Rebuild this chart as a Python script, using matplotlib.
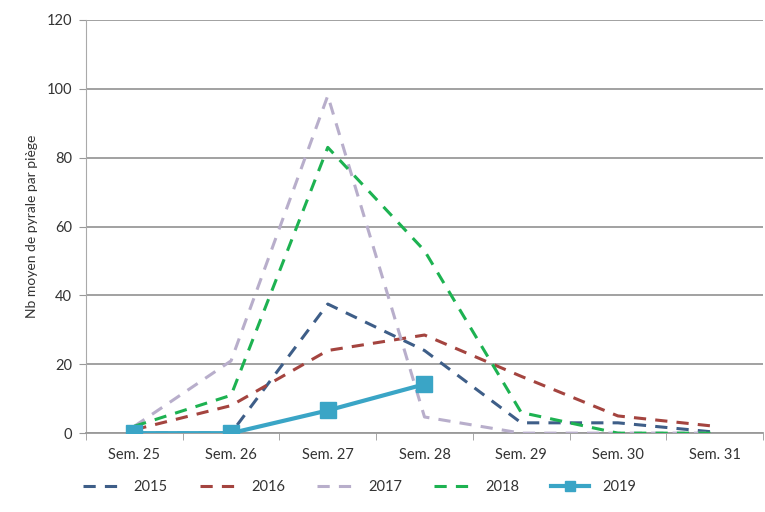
import matplotlib
matplotlib.use("Agg")
import matplotlib.pyplot as plt
import numpy as np

plt.rcParams['font.family'] = ['Lato', 'DejaVu Sans']

weeks = ["Sem. 25", "Sem. 26", "Sem. 27", "Sem. 28", "Sem. 29", "Sem. 30", "Sem. 31"]
y2015 = [0, 0, 37.5, 24, 3, 3, 0.3]
y2016 = [1, 8, 24, 28.5, 16.5, 5, 2]
y2017 = [2, 21, 98, 4.7, 0, 0, 0]
y2018 = [2, 11, 83, 53, 6, 0, 0]
y2019 = [0, 0, 6.6, 14.2]
years = ["2015", "2016", "2017", "2018", "2019"]
yticks = [0, 20, 40, 60, 80, 100, 120]

fig = plt.figure(figsize=(7.65, 5.12), dpi=100)
ax = fig.add_axes([0.1124, 0.154, 0.885, 0.807])

x = np.arange(len(weeks))
dash = (0, (4, 3))
ax.plot(x, y2015, color="#3E5E88", lw=2.2, linestyle=dash, label=years[0], zorder=3)
ax.plot(x, y2016, color="#A4443F", lw=2.2, linestyle=dash, label=years[1], zorder=3)
ax.plot(x, y2017, color="#B8AECB", lw=2.2, linestyle=dash, label=years[2], zorder=3)
ax.plot(x, y2018, color="#1DB251", lw=2.2, linestyle=dash, label=years[3], zorder=3)
ax.plot(x[:len(y2019)], y2019, color="#3AA5C6", lw=3, marker="s", markersize=11,
        label=years[4], zorder=4)

ax.set_xlim(-0.5, len(weeks) - 0.5)
ax.set_ylim(0, 120)
ax.set_yticks(yticks)
ax.set_xticks(x)
ax.set_xticklabels(weeks)
ax.set_xticks(np.arange(-0.5, len(weeks) + 0.5, 1), minor=True)
ax.tick_params(axis="x", which="major", length=0, pad=11, labelsize=10.5, colors="#333333")
ax.tick_params(axis="x", which="minor", length=5, color="#999999", direction="out")
ax.tick_params(axis="y", length=5, color="#999999", labelsize=10.5, colors="#333333", pad=5)
ax.grid(axis="y", color="#9a9a9a", lw=1.3, zorder=0)
for s in ["top", "right"]:
    ax.spines[s].set_visible(False)
ax.spines["left"].set_color("#aaaaaa")
ax.spines["bottom"].set_color("#9a9a9a")
ax.spines["bottom"].set_linewidth(1.3)
ax.set_ylabel("Nb moyen de pyrale par piège", fontsize=10, color="#333333", labelpad=6)

leg = fig.legend(loc="lower center", bbox_to_anchor=(0.47, 0.01), ncol=5, frameon=False,
                 fontsize=10.5, columnspacing=2.2, handlelength=2.6, handletextpad=0.9,
                 markerscale=0.6, labelcolor="#333333")
fig.savefig("out.png", dpi=100)
